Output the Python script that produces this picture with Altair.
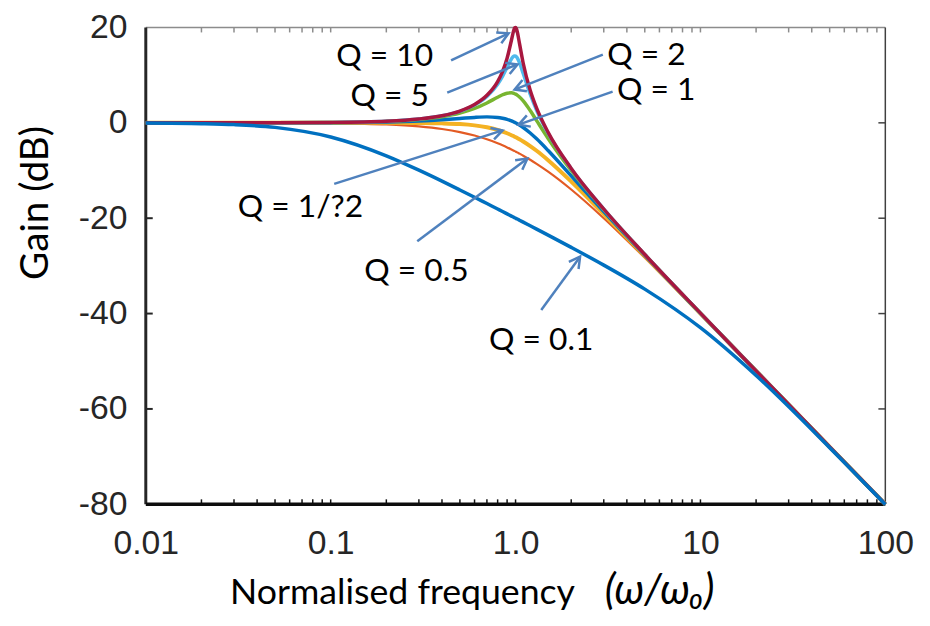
import math
import altair as alt
import pandas as pd

# ---------------- data ----------------
freq = [0.01, 0.02, 0.03, 0.05, 0.1, 0.2, 0.3, 0.4, 0.5, 0.6, 0.7, 0.8, 0.85, 0.9,
        0.95, 0.98, 0.99, 1.0, 1.01, 1.02, 1.05, 1.1, 1.2, 1.3, 1.5, 2, 3, 5, 10, 20, 50, 100]

gain_q01 = [-0.04, -0.17, -0.37, -0.95, -2.97, -6.92, -9.93, -12.23, -14.08, -15.61, -16.93,
            -18.07, -18.59, -19.09, -19.56, -19.83, -19.91, -20.0, -20.09, -20.17, -20.42,
            -20.83, -21.59, -22.29, -23.55, -26.12, -29.84, -34.88, -42.97, -52.99, -68.13, -80.04]
gain_q05 = [0.0, 0.0, -0.01, -0.02, -0.09, -0.34, -0.75, -1.29, -1.94, -2.67, -3.46, -4.30,
            -4.72, -5.15, -5.59, -5.85, -5.93, -6.02, -6.11, -6.19, -6.46, -6.89, -7.75, -8.60,
            -10.24, -13.98, -20.0, -28.30, -40.09, -52.06, -67.96, -80.0]
gain_q0707 = [0.0, 0.0, 0.0, 0.0, 0.0, -0.01, -0.04, -0.11, -0.26, -0.53, -0.93, -1.49, -1.82,
              -2.19, -2.59, -2.84, -2.92, -3.01, -3.10, -3.19, -3.46, -3.92, -4.88, -5.86,
              -7.83, -12.30, -19.14, -27.96, -40.0, -52.04, -67.96, -80.0]
gain_q1 = [0.0, 0.0, 0.0, 0.01, 0.04, 0.17, 0.37, 0.63, 0.90, 1.14, 1.25, 1.14, 0.97, 0.73,
           0.40, 0.17, 0.09, 0.0, -0.09, -0.18, -0.47, -0.98, -2.13, -3.36, -5.81, -11.14,
           -18.63, -27.79, -39.96, -52.03, -67.96, -80.0]
gain_q2 = [0.0, 0.0, 0.01, 0.02, 0.08, 0.31, 0.70, 1.27, 2.04, 3.01, 4.17, 5.38, 5.89, 6.22,
           6.29, 6.17, 6.10, 6.02, 5.93, 5.82, 5.43, 4.60, 2.57, 0.46, -3.27, -10.0, -18.21,
           -27.65, -39.92, -52.02, -67.96, -80.0]
gain_q5 = [0.0, 0.0, 0.01, 0.02, 0.09, 0.35, 0.80, 1.48, 2.42, 3.73, 5.53, 8.09, 9.75, 11.64,
           13.41, 13.98, 14.02, 13.98, 13.85, 13.64, 12.63, 10.34, 6.00, 2.65, -2.18, -9.62,
           -18.09, -27.61, -39.92, -52.02, -67.96, -80.0]
gain_q10 = [0.0, 0.0, 0.01, 0.02, 0.09, 0.35, 0.81, 1.50, 2.48, 3.84, 5.77, 8.66, 10.75, 13.55,
            17.32, 19.52, 19.92, 20.0, 19.75, 19.20, 16.67, 12.50, 6.82, 3.07, -2.00, -9.56,
            -18.07, -27.61, -39.91, -52.02, -67.96, -80.0]

# draw order: first drawn first
series_names = ["Q = 0.5", "Q = 1/√2", "Q = 1", "Q = 2", "Q = 5", "Q = 10", "Q = 0.1"]
series_values = [gain_q05, gain_q0707, gain_q1, gain_q2, gain_q5, gain_q10, gain_q01]
series_colors = ["#E35B24", "#F4B223", "#0070C0", "#78B530", "#4FB9EC", "#A8173F", "#0070C0"]
series_widths = [2.2, 4.0, 3.5, 3.5, 3.5, 3.5, 3.5]

ann_label = ["Q = 10", "Q = 5", "Q = 2", "Q = 1", "Q = 1/?2", "Q = 0.5", "Q = 0.1"]
ann_text_f = [0.196, 0.2085, 5.10, 5.77, 0.0686, 0.291, 1.377]
ann_text_g = [13.9, 5.6, 14.30, 6.97, -17.68, -31.12, -45.58]
ann_start_f = [0.448, 0.427, 2.965, 3.35, 0.1045, 0.294, 1.377]
ann_start_g = [13.08, 6.35, 14.30, 6.56, -12.79, -24.81, -39.27]
ann_tip_f = [0.917, 1.025, 0.988, 1.038, 0.851, 1.159, 2.234]
ann_tip_g = [18.78, 12.26, 6.97, -0.37, -1.59, -7.49, -28.07]

x_tick_labels = [0.01, 0.1, 1, 10, 100]
y_tick_labels = [-80, -60, -40, -20, 0, 20]

# ---------------- layout ----------------
W, H = 746, 481
XDOM = [0.01, 100]
YDOM = [-80, 20]
LABEL_FONT = "Liberation Sans"
TEXT_FONT = "Lato"
ARROW = "#4F81BD"

xs = alt.Scale(type="log", domain=XDOM, nice=False)
ys = alt.Scale(domain=YDOM, nice=False, zero=False)

x_axis = alt.Axis(values=x_tick_labels, labelExpr="datum.value == 1 ? '1.0' : '' + datum.value",
                  domain=False, ticks=False, grid=False, title=None, labelFont=LABEL_FONT,
                  labelFontSize=34, labelColor="#262626", labelPadding=23, labelFlush=False,
                  labelOverlap=False)
y_axis = alt.Axis(values=y_tick_labels, labelExpr="'' + datum.value", domain=False,
                  ticks=False, grid=False, title=None, labelFont=LABEL_FONT, labelFontSize=34,
                  labelColor="#262626", labelPadding=19, labelOverlap=False)


def X(field):
    return alt.X(field, scale=xs, axis=x_axis)


def Y(field):
    return alt.Y(field, scale=ys, axis=y_axis)


one = pd.DataFrame({"k": [0]})
layers = []

# frame
frame_top = alt.Chart(one).mark_rule(color="#8c8c8c", strokeWidth=1.5).encode(
    x=alt.value(0), x2=alt.value(W), y=alt.value(0))
frame_right = alt.Chart(one).mark_rule(color="#404040", strokeWidth=1.5).encode(
    x=alt.value(W), y=alt.value(0), y2=alt.value(H))
layers += [frame_top, frame_right]

# minor / major log ticks on top and bottom edges, major ticks on left / right
xt = [m * 10 ** e for e in range(-2, 2) for m in range(2, 10)] + [0.1, 1, 10]
xt_df = pd.DataFrame({"f": xt})
top_ticks = alt.Chart(xt_df).mark_rule(color="#8c8c8c", strokeWidth=1.5).encode(
    x=X("f:Q"), y=alt.value(0), y2=alt.value(5))
bottom_ticks = alt.Chart(xt_df).mark_rule(color="#111111", strokeWidth=1.5).encode(
    x=X("f:Q"), y=alt.value(H), y2=alt.value(H - 5))
yt_df = pd.DataFrame({"g": [-60, -40, -20, 0]})
left_ticks = alt.Chart(yt_df).mark_rule(color="#262626", strokeWidth=2).encode(
    y=Y("g:Q"), x=alt.value(0), x2=alt.value(7))
right_ticks = alt.Chart(yt_df).mark_rule(color="#404040", strokeWidth=1.5).encode(
    y=Y("g:Q"), x=alt.value(W - 7), x2=alt.value(W))
layers += [top_ticks, bottom_ticks, left_ticks, right_ticks]

frame_left = alt.Chart(one).mark_rule(color="#262626", strokeWidth=3).encode(
    x=alt.value(0), y=alt.value(0), y2=alt.value(H))
frame_bottom = alt.Chart(one).mark_rule(color="#0d0d0d", strokeWidth=3.5).encode(
    x=alt.value(0), x2=alt.value(W), y=alt.value(H))
layers += [frame_left, frame_bottom]

for name, vals, col, sw in zip(series_names, series_values, series_colors, series_widths):
    df = pd.DataFrame({"f": freq, "g": vals, "series": name})
    layers.append(
        alt.Chart(df).mark_line(color=col, strokeWidth=sw, interpolate="monotone").encode(
            x=X("f:Q"), y=Y("g:Q"))
    )


# annotations
def arrow_angle(sf, sg, tf, tg):
    dx = (math.log10(tf) - math.log10(sf)) * W / 4.0
    dy = -(tg - sg) * H / 100.0
    return math.degrees(math.atan2(dy, dx)) % 360


ann = pd.DataFrame({
    "label": ann_label, "tf": ann_text_f, "tg": ann_text_g,
    "sf": ann_start_f, "sg": ann_start_g, "ef": ann_tip_f, "eg": ann_tip_g,
})
ann["ang"] = [arrow_angle(a, b, c, d) for a, b, c, d in
              zip(ann_start_f, ann_start_g, ann_tip_f, ann_tip_g)]

arrow_lines = alt.Chart(ann).mark_rule(color=ARROW, strokeWidth=2.5).encode(
    x=X("sf:Q"), y=Y("sg:Q"), x2="ef:Q", y2="eg:Q")
arrow_heads = alt.Chart(ann).mark_point(
    shape="M -1 -0.55 L 0 0 L -1 0.55", filled=False, size=480, strokeWidth=2.5,
    color=ARROW, opacity=1).encode(
    x=X("ef:Q"), y=Y("eg:Q"), angle=alt.Angle("ang:Q", scale=None))
ann_text = alt.Chart(ann).mark_text(font=TEXT_FONT, fontSize=32, color="#000000",
                                    align="center", baseline="middle").encode(
    x=X("tf:Q"), y=Y("tg:Q"), text="label:N")
layers += [arrow_lines, arrow_heads, ann_text]

# axis titles
y_title = alt.Chart(one).mark_text(text="Gain (dB)", font=TEXT_FONT, fontSize=39, angle=270,
                                   align="center", baseline="middle", color="#000000").encode(
    x=alt.value(-111), y=alt.value(177))
x_title1 = alt.Chart(one).mark_text(text="Normalised frequency", font=TEXT_FONT, fontSize=36,
                                    align="left", baseline="alphabetic", color="#000000").encode(
    x=alt.value(85), y=alt.value(582))
x_title2 = alt.Chart(one).mark_text(text="(ω/ω₀)", font=TEXT_FONT, fontSize=42, fontStyle="italic",
                                    align="left", baseline="alphabetic", color="#000000").encode(
    x=alt.value(463), y=alt.value(582))
layers += [y_title, x_title1, x_title2]

chart = alt.layer(*layers).properties(
    width=W, height=H,
    padding={"left": 139, "top": 17, "right": 37, "bottom": 106},
    autosize=alt.AutoSizeParams(type="none"),
).configure_view(stroke=None)

chart.save("out.html", embed_options={"renderer": "svg", "actions": False})
